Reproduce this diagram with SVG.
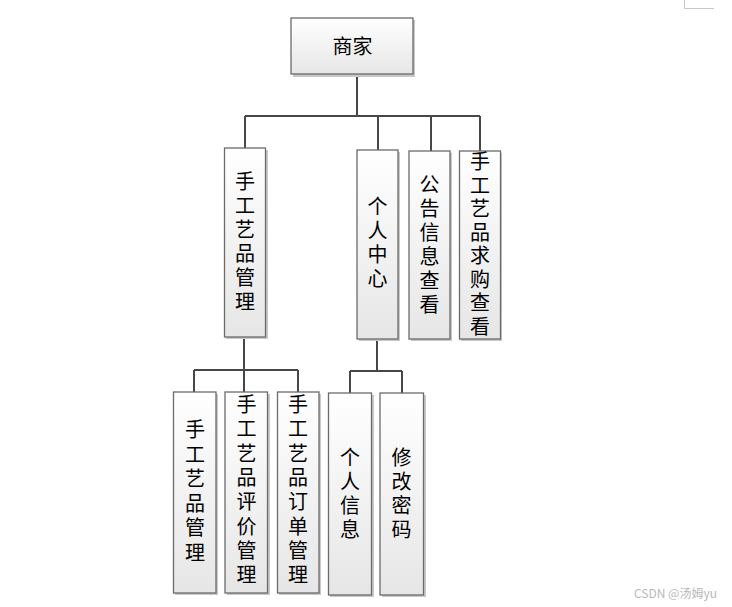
<svg xmlns="http://www.w3.org/2000/svg" width="732" height="607" viewBox="0 0 732 607">
<defs>
<linearGradient id="g" x1="0" y1="0" x2="0" y2="1">
<stop offset="0" stop-color="#ffffff"/>
<stop offset="1" stop-color="#e6e6e6"/>
</linearGradient>
<style>
.box{fill:url(#g);stroke:#6b6b6b;stroke-width:1.3}
.sh{fill:#c8c8c8}
.t{font-family:"Noto Sans CJK SC","Noto Sans CJK JP",sans-serif;font-size:20px;fill:#000;text-anchor:middle}
.c{fill:none;stroke:#474747;stroke-width:2}
.wm{font-family:"Noto Sans CJK SC","Liberation Sans",sans-serif;font-size:12px;fill:#b8b8b8}
</style>
</defs>
<rect width="732" height="607" fill="#fff"/>
<path d="M684.5 0V8.5H714" fill="none" stroke="#c8c8c8" stroke-width="1"/>
<g id="connectors">
<path class="c" d="M357 75V116M245 116H480M245 116V148M378 116V150M431 116V151M480 116V151"/>
<path class="c" d="M244 337V392M194 370H298M194 370V392M298 370V392"/>
<path class="c" d="M377 339V371M350 371H402M350 371V393M402 371V393"/>
</g>
<g id="n-shangjia">
<rect class="sh" x="293" y="20" width="122" height="57"/>
<rect class="box" x="291" y="18" width="122" height="56"/>
<text class="t" x="352.5" y="53.5">商家</text>
</g>
<g id="n-gyp">
<rect class="sh" x="226" y="150" width="42" height="189"/>
<rect class="box" x="224.5" y="148" width="41" height="189"/>
<text class="t"><tspan x="245" y="189">手</tspan><tspan x="245" y="213">工</tspan><tspan x="245" y="237">艺</tspan><tspan x="245" y="261">品</tspan><tspan x="245" y="285">管</tspan><tspan x="245" y="309">理</tspan></text>
</g>
<g id="n-grzx">
<rect class="sh" x="359" y="152" width="41" height="189"/>
<rect class="box" x="357" y="150" width="41" height="189"/>
<text class="t"><tspan x="377.5" y="214">个</tspan><tspan x="377.5" y="238">人</tspan><tspan x="377.5" y="262">中</tspan><tspan x="377.5" y="286">心</tspan></text>
</g>
<g id="n-ggxx">
<rect class="sh" x="411" y="153" width="41" height="188"/>
<rect class="box" x="409" y="151" width="41" height="188"/>
<text class="t"><tspan x="429.5" y="192">公</tspan><tspan x="429.5" y="216">告</tspan><tspan x="429.5" y="240">信</tspan><tspan x="429.5" y="264">息</tspan><tspan x="429.5" y="288">查</tspan><tspan x="429.5" y="312">看</tspan></text>
</g>
<g id="n-qgck">
<rect class="sh" x="461" y="153" width="41" height="188"/>
<rect class="box" x="459.5" y="151" width="41" height="188"/>
<text class="t"><tspan x="480" y="169">手</tspan><tspan x="480" y="192.5">工</tspan><tspan x="480" y="216">艺</tspan><tspan x="480" y="239.5">品</tspan><tspan x="480" y="263">求</tspan><tspan x="480" y="286.5">购</tspan><tspan x="480" y="310">查</tspan><tspan x="480" y="333.5">看</tspan></text>
</g>
<g id="n-gypgl">
<rect class="sh" x="175" y="394" width="43" height="201"/>
<rect class="box" x="173.5" y="392" width="42.5" height="201"/>
<text class="t"><tspan x="195" y="437">手</tspan><tspan x="195" y="461.5">工</tspan><tspan x="195" y="486">艺</tspan><tspan x="195" y="510.5">品</tspan><tspan x="195" y="535">管</tspan><tspan x="195" y="559.5">理</tspan></text>
</g>
<g id="n-pjgl">
<rect class="sh" x="227" y="394" width="43" height="201"/>
<rect class="box" x="225" y="392" width="42.5" height="201"/>
<text class="t"><tspan x="246.5" y="412">手</tspan><tspan x="246.5" y="436.3">工</tspan><tspan x="246.5" y="460.6">艺</tspan><tspan x="246.5" y="484.9">品</tspan><tspan x="246.5" y="509.2">评</tspan><tspan x="246.5" y="533.5">价</tspan><tspan x="246.5" y="557.8">管</tspan><tspan x="246.5" y="582">理</tspan></text>
</g>
<g id="n-ddgl">
<rect class="sh" x="279" y="394" width="42" height="201"/>
<rect class="box" x="277.5" y="392" width="41.5" height="201"/>
<text class="t"><tspan x="298" y="412">手</tspan><tspan x="298" y="436.3">工</tspan><tspan x="298" y="460.6">艺</tspan><tspan x="298" y="484.9">品</tspan><tspan x="298" y="509.2">订</tspan><tspan x="298" y="533.5">单</tspan><tspan x="298" y="557.8">管</tspan><tspan x="298" y="582">理</tspan></text>
</g>
<g id="n-grxx">
<rect class="sh" x="330" y="395" width="44" height="202"/>
<rect class="box" x="328.5" y="393" width="43" height="202"/>
<text class="t"><tspan x="350" y="465">个</tspan><tspan x="350" y="489">人</tspan><tspan x="350" y="513">信</tspan><tspan x="350" y="537">息</tspan></text>
</g>
<g id="n-xgmm">
<rect class="sh" x="382" y="395" width="44" height="202"/>
<rect class="box" x="380" y="393" width="43.5" height="202"/>
<text class="t"><tspan x="401.5" y="465">修</tspan><tspan x="401.5" y="489">改</tspan><tspan x="401.5" y="513">密</tspan><tspan x="401.5" y="537">码</tspan></text>
</g>
<text class="wm" x="634" y="598">CSDN @汤姆yu</text>
</svg>
